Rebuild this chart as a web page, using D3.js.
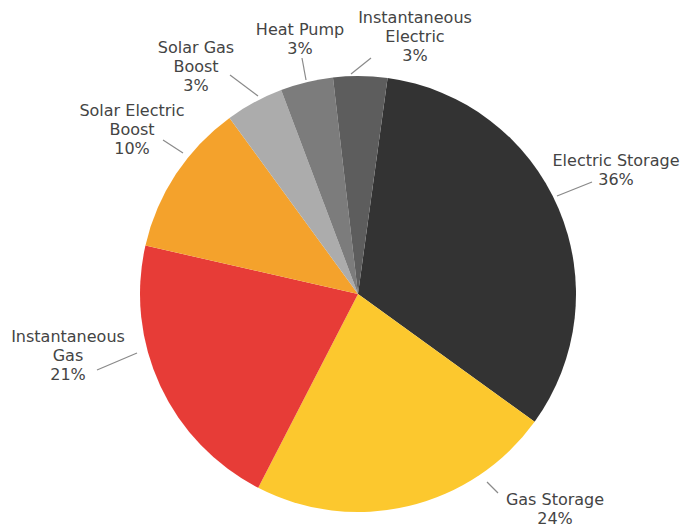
<!DOCTYPE html>
<html>
<head>
<meta charset="utf-8">
<script src="https://cdn.jsdelivr.net/npm/d3@7/dist/d3.min.js"></script>
<style>
  html, body { margin: 0; padding: 0; background: #ffffff; }
  svg { display: block; }
</style>
</head>
<body>
<svg id="chart" width="684" height="529"></svg>
<script>
// ---- data ----
const categories = ["Electric Storage", "Gas Storage", "Instantaneous Gas", "Solar Electric Boost", "Solar Gas Boost", "Heat Pump", "Instantaneous Electric"];
// slice sizes as drawn in the picture (share of the circle, %)
const sliceValues = [32.8, 22.6, 21.0, 11.4, 4.3, 3.9, 4.0];
// percentages printed in the labels
const labelPercents = ["36%", "24%", "21%", "10%", "3%", "3%", "3%"];
const labelLines = [
  ["Electric Storage"],
  ["Gas Storage"],
  ["Instantaneous", "Gas"],
  ["Solar Electric", "Boost"],
  ["Solar Gas", "Boost"],
  ["Heat Pump"],
  ["Instantaneous", "Electric"]
];
const colors = ["#333333", "#fcc82e", "#e73c37", "#f4a22c", "#acacac", "#7c7c7c", "#5d5d5d"];

// ---- layout ----
const cx = 358, cy = 294, R = 218;
const startDeg = 7.8;
// label block: x centre, first baseline; leader line endpoints
const labelLayout = [
  { x: 616, y: 166, l: [[557, 196], [592, 182]] },
  { x: 555, y: 505, l: [[487, 482], [498, 493]] },
  { x: 68,  y: 342, l: [[97, 370], [137, 353]] },
  { x: 132, y: 116, l: [[163, 140], [183, 153]] },
  { x: 196, y: 53,  l: [[230, 75], [258, 96]] },
  { x: 300, y: 35,  l: [[302, 58], [306, 80]] },
  { x: 415, y: 23,  l: [[371, 58], [351, 74]] }
];
const lineH = 19;

const svg = d3.select("#chart");
const g = svg.append("g").attr("transform", `translate(${cx},${cy})`);

const pie = d3.pie().sort(null).value(d => d)
  .startAngle(startDeg * Math.PI / 180)
  .endAngle(startDeg * Math.PI / 180 + 2 * Math.PI);
const arc = d3.arc().innerRadius(0).outerRadius(R);

g.selectAll("path.slice")
  .data(pie(sliceValues))
  .join("path")
  .attr("class", "slice")
  .attr("d", arc)
  .attr("fill", (d, i) => colors[i]);

// leader lines
svg.selectAll("line.leader")
  .data(labelLayout)
  .join("line")
  .attr("class", "leader")
  .attr("x1", d => d.l[0][0]).attr("y1", d => d.l[0][1])
  .attr("x2", d => d.l[1][0]).attr("y2", d => d.l[1][1])
  .attr("stroke", "#8a8a8a")
  .attr("stroke-width", 1.2);

// labels
const labels = svg.selectAll("text.lbl")
  .data(categories)
  .join("text")
  .attr("class", "lbl")
  .attr("text-anchor", "middle")
  .attr("font-family", "'DejaVu Sans', sans-serif")
  .attr("font-size", 16)
  .attr("fill", "#444444");

labels.each(function(c, i) {
  const t = d3.select(this);
  const lines = labelLines[i].concat([labelPercents[i]]);
  lines.forEach((s, k) => {
    t.append("tspan")
      .attr("x", labelLayout[i].x)
      .attr("y", labelLayout[i].y + k * lineH)
      .text(s);
  });
});
</script>
</body>
</html>
